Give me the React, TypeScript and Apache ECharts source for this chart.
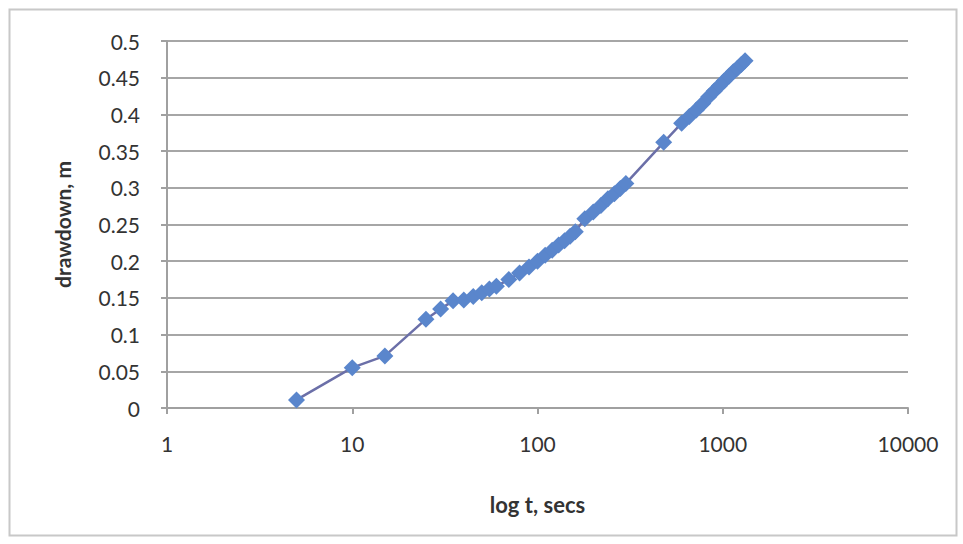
import React, { useEffect, useRef } from "react";
import * as echarts from "echarts";

const times = [
  5, 10, 15, 25, 30, 35, 40, 45, 50, 55, 60, 70, 80, 90, 100, 110, 120, 130, 140, 150, 160,
  180, 200, 220, 240, 260, 280, 300, 480, 600, 660, 720, 780, 840, 900, 960, 1020, 1080,
  1140, 1200, 1260, 1320,
];
const drawdowns = [
  0.011, 0.055, 0.071, 0.121, 0.135, 0.146, 0.147, 0.152, 0.157, 0.162, 0.166, 0.175, 0.184,
  0.192, 0.2, 0.208, 0.215, 0.222, 0.228, 0.234, 0.24, 0.258, 0.267, 0.276, 0.285, 0.292,
  0.299, 0.306, 0.362, 0.388, 0.397, 0.406, 0.415, 0.424, 0.432, 0.439, 0.446, 0.452, 0.458,
  0.463, 0.468, 0.473,
];
const xTickLabels = ["1", "10", "100", "1000", "10000"];
const xAxisTitle = "log t, secs";
const yAxisTitle = "drawdown, m";

const FONT = "Lato, 'Open Sans', sans-serif";

export default function App() {
  const ref = useRef<HTMLDivElement>(null);
  useEffect(() => {
    if (!ref.current) return;
    const chart = echarts.init(ref.current, null, { renderer: "svg" });
    const data = times.map((t, i) => [t, drawdowns[i]]);
    chart.setOption({
      animation: false,
      backgroundColor: "#ffffff",
      textStyle: { fontFamily: FONT },
      graphic: [
        {
          type: "rect",
          shape: { x: 9.5, y: 9.5, width: 947, height: 526 },
          style: { fill: "none", stroke: "#c8c8c8", lineWidth: 2 },
          silent: true,
        },
      ],
      grid: { left: 167, top: 41, right: 55, bottom: 136, containLabel: false },
      xAxis: {
        type: "log",
        logBase: 10,
        min: 1,
        max: 10000,
        name: xAxisTitle,
        nameLocation: "middle",
        nameGap: 85,
        nameTextStyle: { fontFamily: FONT, fontSize: 22, fontWeight: "bold", color: "#333333" },
        axisLine: { show: true, onZero: false, lineStyle: { color: "#a0a0a0", width: 2 } },
        axisTick: { show: true, inside: false, length: 6, lineStyle: { color: "#a0a0a0", width: 2 } },
        axisLabel: {
          fontFamily: FONT,
          fontSize: 21,
          color: "#333333",
          margin: 25,
          formatter: (v: number) => {
            const idx = Math.round(Math.log10(v));
            return xTickLabels[idx] ?? String(v);
          },
        },
        splitLine: { show: false },
        minorTick: { show: false },
      },
      yAxis: {
        type: "value",
        min: 0,
        max: 0.5,
        interval: 0.05,
        name: yAxisTitle,
        nameLocation: "middle",
        nameGap: 94,
        nameRotate: 90,
        nameTextStyle: { fontFamily: FONT, fontSize: 21, fontWeight: "bold", color: "#333333" },
        axisLine: { show: true, lineStyle: { color: "#a0a0a0", width: 2 } },
        axisTick: { show: true, inside: false, length: 6, lineStyle: { color: "#a0a0a0", width: 2 } },
        axisLabel: {
          fontFamily: FONT,
          fontSize: 21,
          color: "#333333",
          margin: 27,
          formatter: (v: number) => String(parseFloat(v.toFixed(2))),
        },
        splitLine: { show: true, lineStyle: { color: "#a6a6a6", width: 2 } },
      },
      series: [
        {
          type: "line",
          data,
          symbol: "diamond",
          symbolSize: 17,
          showAllSymbol: true,
          clip: false,
          z: 1,
          itemStyle: { color: "#5a86cc" },
          lineStyle: { color: "#6b6fa8", width: 2.5 },
        },
      ],
    });
    return () => chart.dispose();
  }, []);
  return (
    <div
      ref={ref}
      style={{ position: "absolute", left: 0, top: 0, width: 963, height: 544 }}
    />
  );
}
